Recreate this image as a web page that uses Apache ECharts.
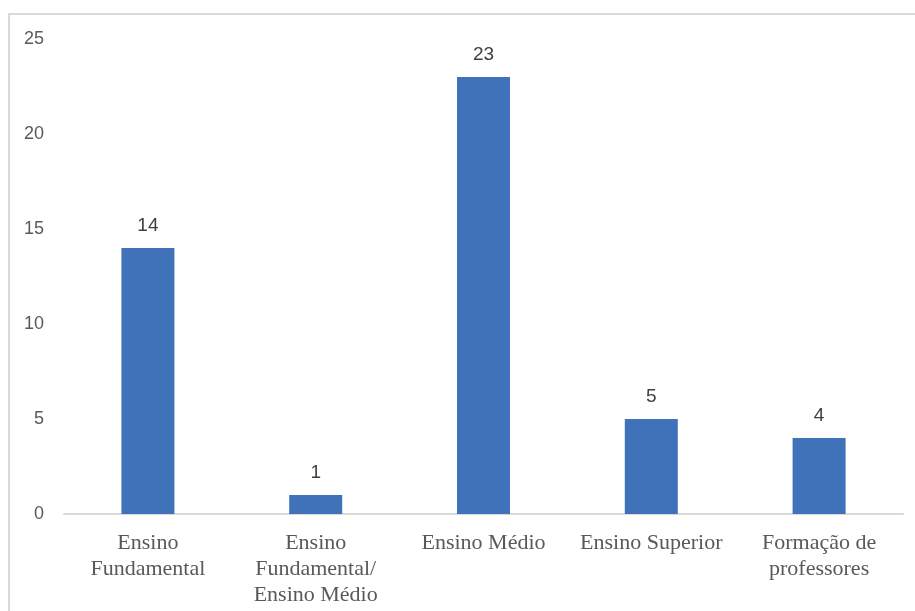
<!DOCTYPE html>
<html>
<head>
<meta charset="utf-8">
<script src="https://cdn.jsdelivr.net/npm/echarts@6/dist/echarts.min.js"></script>
<style>
html,body{margin:0;padding:0;background:#fff;}
#chart{width:915px;height:611px;}
</style>
</head>
<body>
<div id="chart"></div>
<script>
const categories = ['Ensino\nFundamental', 'Ensino\nFundamental/\nEnsino Médio', 'Ensino Médio', 'Ensino Superior', 'Formação de\nprofessores'];
const values = [14, 1, 23, 5, 4];
const yTicks = [0, 5, 10, 15, 20, 25];

const chart = echarts.init(document.getElementById('chart'));
chart.setOption({
  animation: false,
  backgroundColor: '#fff',
  graphic: [{
    type: 'rect',
    shape: {x: 9, y: 14, width: 930, height: 640},
    style: {fill: 'none', stroke: '#d9d9d9', lineWidth: 2},
    silent: true
  }],
  grid: {left: 64, right: 12, top: 39, bottom: 97},
  xAxis: {
    type: 'category',
    data: categories,
    axisLine: {lineStyle: {color: '#d9d9d9', width: 2}},
    axisTick: {show: false},
    axisLabel: {
      interval: 0,
      margin: 16,
      color: '#595959',
      fontFamily: 'Liberation Serif',
      fontSize: 22,
      lineHeight: 26
    }
  },
  yAxis: {
    type: 'value',
    min: yTicks[0],
    max: yTicks[yTicks.length - 1],
    interval: 5,
    splitLine: {show: false},
    axisLine: {show: false},
    axisTick: {show: false},
    axisLabel: {
      color: '#595959',
      fontFamily: 'Liberation Sans',
      fontSize: 18,
      margin: 20
    }
  },
  series: [{
    type: 'bar',
    data: values,
    barWidth: 53,
    itemStyle: {color: '#3F72B9'},
    label: {
      show: true,
      position: 'top',
      distance: 13,
      color: '#404040',
      fontFamily: 'Liberation Sans',
      fontSize: 19
    }
  }]
});
</script>
</body>
</html>
